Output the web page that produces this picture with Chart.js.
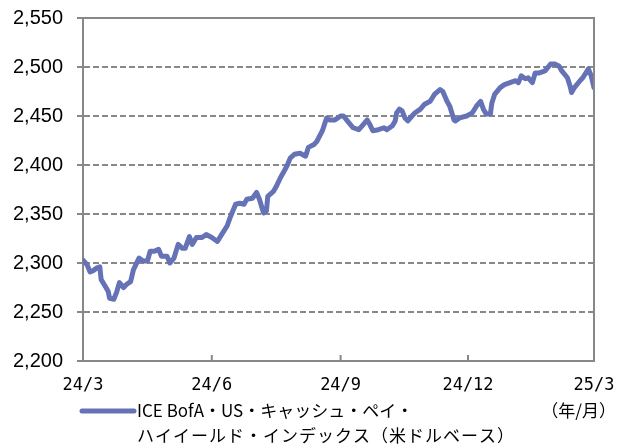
<!DOCTYPE html>
<html>
<head>
<meta charset="utf-8">
<script src="https://cdn.jsdelivr.net/npm/chart.js@4/dist/chart.umd.min.js"></script>
<style>
  html, body { margin: 0; padding: 0; background: #ffffff; }
  #wrap { width: 617px; height: 448px; position: relative; }
</style>
</head>
<body>
<div id="wrap"><canvas id="c" width="617" height="448"></canvas></div>
<script>
// ---- Data ----
const seriesLabel = 'ICE BofA・US・キャッシュ・ペイ・ハイイールド・インデックス（米ドルベース）';
const legendLines = ['ICE BofA・US・キャッシュ・ペイ・', 'ハイイールド・インデックス（米ドルベース）'];
const unitLabel = '（年/月）';
const tickLabels = ['24/3', '24/6', '24/9', '24/12', '25/3'];
const tickDays = [0, 92, 184, 275, 365];          // days since 2024-03-01
const yTicks = [2200, 2250, 2300, 2350, 2400, 2450, 2500, 2550];

const days = [0,3,5,7,10,12,13,16,18,19,22,24,26,29,31,34,36,40,43,46,48,51,54,56,60,62,65,68,71,73,76,78,81,85,88,92,96,99,103,105,109,112,115,117,121,124,126,129,131,132,136,138,141,143,146,148,151,155,159,161,165,167,171,174,176,180,184,186,190,193,197,200,203,205,207,211,215,217,221,223,224,226,228,230,232,235,237,241,244,248,251,255,257,260,262,265,266,269,274,278,281,284,286,288,291,292,294,298,301,305,309,311,313,316,318,321,323,326,330,334,337,340,342,346,348,349,351,355,357,361,363,365];
const values = [2303,2298,2291,2292,2295,2296,2283,2276,2271,2264,2263,2270,2280,2275,2278,2281,2293,2305,2302,2302,2312,2312,2314,2307,2307,2300,2305,2319,2315,2315,2327,2319,2326,2326,2329,2326,2322,2329,2338,2346,2360,2361,2360,2365,2366,2372,2365,2351,2353,2368,2373,2378,2387,2392,2400,2407,2411,2412,2409,2418,2421,2424,2435,2448,2446,2446,2450,2450,2443,2438,2436,2441,2446,2441,2435,2436,2438,2436,2440,2445,2453,2457,2455,2448,2445,2450,2453,2457,2462,2465,2472,2477,2475,2465,2460,2446,2445,2448,2450,2453,2460,2465,2457,2452,2452,2463,2472,2479,2482,2484,2486,2484,2491,2488,2489,2484,2494,2494,2496,2503,2503,2501,2496,2489,2480,2474,2479,2486,2489,2498,2491,2479];

// ---- Styles ----
const lineColor = '#6672b6';
const axisColor = '#888888';

const points = days.map((d, i) => ({ x: d, y: values[i] }));

const framePlugin = {
  id: 'frame',
  afterDraw(chart) {
    const { ctx, chartArea: a, scales } = chart;
    ctx.save();
    ctx.strokeStyle = axisColor;
    ctx.lineWidth = 2;
    ctx.setLineDash([]);
    ctx.beginPath();
    ctx.moveTo(a.left - 1, a.top);
    ctx.lineTo(a.right, a.top);
    ctx.lineTo(a.right, a.bottom);
    ctx.stroke();
    tickDays.forEach(d => {
      const x = scales.x.getPixelForValue(d);
      ctx.beginPath();
      ctx.moveTo(x, a.bottom);
      ctx.lineTo(x, a.bottom - 6);
      ctx.stroke();
    });
    const ly = 411;
    ctx.strokeStyle = lineColor;
    ctx.lineWidth = 5;
    ctx.lineCap = 'round';
    ctx.beginPath();
    ctx.moveTo(82, ly);
    ctx.lineTo(134, ly);
    ctx.stroke();
    ctx.fillStyle = '#000000';
    ctx.font = '17px "Noto Sans CJK JP", sans-serif';
    ctx.textBaseline = 'middle';
    ctx.textAlign = 'left';
    ctx.fillText(legendLines[0], 137, ly);
    if ('letterSpacing' in ctx) ctx.letterSpacing = '1px';
    ctx.fillText(legendLines[1], 137, ly + 25);
    if ('letterSpacing' in ctx) ctx.letterSpacing = '0px';
    ctx.textAlign = 'right';
    ctx.fillText(unitLabel, 616, ly);
    ctx.restore();
  }
};

new Chart(document.getElementById('c'), {
  type: 'line',
  data: {
    datasets: [{
      label: seriesLabel,
      data: points,
      borderColor: lineColor,
      backgroundColor: lineColor,
      borderWidth: 5,
      pointRadius: 0,
      tension: 0,
      borderJoinStyle: 'round',
      borderCapStyle: 'round',
      fill: false
    }]
  },
  options: {
    responsive: false,
    animation: false,
    devicePixelRatio: 1,
    layout: { padding: { left: 0, right: 23, top: 18, bottom: 0 } },
    plugins: { legend: { display: false }, tooltip: { enabled: false } },
    scales: {
      x: {
        type: 'linear',
        min: tickDays[0],
        max: tickDays[tickDays.length - 1],
        afterBuildTicks: s => { s.ticks = tickDays.map(v => ({ value: v })); },
        afterFit: s => { s.height = 87; s.paddingLeft = 0; s.paddingRight = 0; },
        ticks: {
          autoSkip: false,
          maxRotation: 0,
          padding: 14,
          color: '#000000',
          font: { family: '"DejaVu Sans Mono", monospace', size: 17 },
          callback: (v) => { const i = tickDays.indexOf(v); return i >= 0 ? tickLabels[i] : ''; }
        },
        grid: { drawOnChartArea: false, drawTicks: false },
        border: { display: true, color: axisColor, width: 2 }
      },
      y: {
        type: 'linear',
        min: yTicks[0],
        max: yTicks[yTicks.length - 1],
        afterBuildTicks: s => { s.ticks = yTicks.map(v => ({ value: v })); },
        afterFit: s => { s.width = 83; s.paddingTop = 0; s.paddingBottom = 0; },
        ticks: {
          padding: 14,
          color: '#000000',
          font: { family: '"Liberation Sans", Arial, sans-serif', size: 20 },
          callback: v => v.toLocaleString('en-US')
        },
        grid: {
          color: axisColor,
          lineWidth: 2,
          drawTicks: true,
          tickLength: 6,
          tickColor: axisColor,
          tickWidth: 2
        },
        border: { display: true, color: axisColor, width: 2, dash: [6, 3] }
      }
    }
  },
  plugins: [framePlugin]
});
</script>
</body>
</html>
